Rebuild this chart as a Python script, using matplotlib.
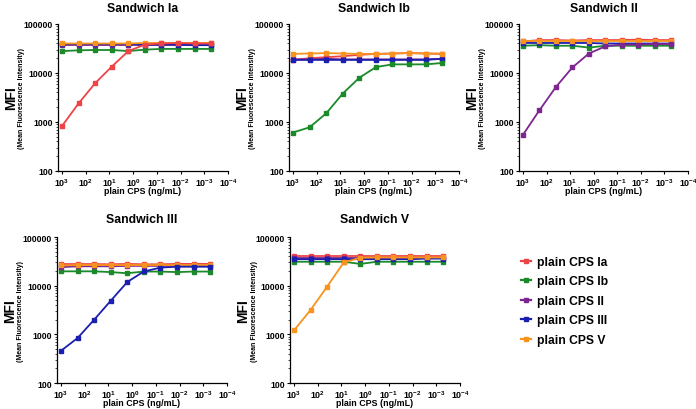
import numpy as np
import matplotlib
matplotlib.use("Agg")
import matplotlib.pyplot as plt
from matplotlib.lines import Line2D
from matplotlib.ticker import FixedLocator, NullLocator, LogLocator, NullFormatter

plt.rcParams['font.family'] = ['Liberation Sans', 'DejaVu Sans']
plt.rcParams['font.weight'] = 'bold'
plt.rcParams['mathtext.fontset'] = 'custom'
plt.rcParams['mathtext.rm'] = 'Liberation Sans:bold'
plt.rcParams['mathtext.default'] = 'rm'

# concentration (ng/mL), 5-fold dilutions from 1000
conc = [1000, 200, 40, 8, 1.6, 0.32, 0.064, 0.0128, 0.00256, 0.000512]

series_names = ["plain CPS Ia", "plain CPS Ib", "plain CPS II", "plain CPS III", "plain CPS V"]
colors = ["#EE4447", "#1B8A2A", "#7D2590", "#1B1FAF", "#F7931E"]

titles = ["Sandwich Ia", "Sandwich Ib", "Sandwich II", "Sandwich III", "Sandwich V"]

# Sandwich Ia
ia_Ia  = [830, 2400, 6200, 13500, 28000, 38000, 40000, 41000, 40000, 40000]
ia_Ib  = [28000, 29000, 29500, 29500, 28000, 30000, 31000, 31000, 31000, 31000]
ia_II  = [38000, 38000, 38000, 38000, 38000, 38000, 38000, 38000, 38000, 38000]
ia_III = [39000, 39000, 39000, 39000, 39000, 38000, 38000, 38000, 37000, 37000]
ia_V   = [40000, 40000, 40000, 40000, 40000, 41000, 41000, 41000, 41000, 41000]

# Sandwich Ib
ib_Ia  = [18600, 20000, 21000, 22000, 23500, 24500, 25000, 25500, 25000, 24500]
ib_Ib  = [610, 780, 1500, 3800, 8000, 13200, 15000, 15000, 15000, 16000]
ib_II  = [19000, 19000, 19500, 19000, 19000, 19000, 19000, 19000, 19000, 19500]
ib_III = [18500, 18500, 18500, 18500, 18500, 18500, 18500, 18500, 18500, 19500]
ib_V   = [24500, 25000, 25500, 25000, 24500, 24500, 25000, 25500, 25000, 25000]

# Sandwich II
ii_Ia  = [44000, 47000, 47000, 46000, 47000, 47000, 47000, 48000, 47000, 47000]
ii_Ib  = [36000, 37000, 36000, 36000, 33000, 36000, 36000, 36000, 36000, 36000]
ii_II  = [550, 1740, 5200, 13000, 25000, 35000, 38000, 38000, 39000, 39000]
ii_III = [41000, 41000, 41000, 41000, 41000, 40000, 40000, 40000, 40000, 40000]
ii_V   = [46000, 46000, 46000, 46000, 46000, 46000, 46000, 46000, 46000, 46000]

# Sandwich III
iii_Ia  = [27800, 27800, 27800, 27500, 28000, 27500, 27500, 28000, 28000, 28000]
iii_Ib  = [19700, 19700, 19700, 19000, 18000, 19500, 19500, 19000, 19500, 19500]
iii_II  = [24000, 25000, 25000, 25000, 25500, 25500, 25500, 25500, 25500, 25500]
iii_III = [460, 840, 2000, 4900, 11900, 19600, 23500, 24500, 24500, 24500]
iii_V   = [26000, 26500, 26500, 26500, 26500, 26500, 26500, 26500, 26500, 26500]

# Sandwich V
v_Ia  = [40000, 40000, 40000, 40000, 40000, 40000, 40000, 40000, 40000, 40000]
v_Ib  = [31000, 31000, 31000, 31000, 28000, 31000, 31000, 31000, 31000, 31000]
v_II  = [37000, 37000, 37000, 37000, 37000, 37000, 37000, 37000, 37000, 37000]
v_III = [35000, 35000, 35000, 35000, 35000, 35000, 35000, 35000, 36000, 36000]
v_V   = [1210, 3170, 9600, 30000, 37500, 38000, 38000, 38000, 38000, 38000]

panels = [
    [ia_Ia, ia_Ib, ia_II, ia_III, ia_V],
    [ib_Ia, ib_Ib, ib_II, ib_III, ib_V],
    [ii_Ia, ii_Ib, ii_II, ii_III, ii_V],
    [iii_Ia, iii_Ib, iii_II, iii_III, iii_V],
    [v_Ia, v_Ib, v_II, v_III, v_V],
]

xticks = [1e3, 1e2, 1e1, 1e0, 1e-1, 1e-2, 1e-3, 1e-4]
xticklabels = ["10$^{3}$", "10$^{2}$", "10$^{1}$", "10$^{0}$", "10$^{-1}$", "10$^{-2}$", "10$^{-3}$", "10$^{-4}$"]
yticks = [100, 1000, 10000, 100000]
yticklabels = ["100", "1000", "10000", "100000"]

fig = plt.figure(figsize=(6.96, 4.10), dpi=100)
W, H = 696, 410
boxes = [
    (58, 25, 228, 172),
    (289, 25, 459, 172),
    (519, 25, 688, 172),
    (57, 238, 227, 384),
    (290, 238, 460, 384),
]

for i, (box, data) in enumerate(zip(boxes, panels)):
    l, t, r, b = box
    w, h = r - l, b - t
    ax = fig.add_axes([l / W, 1 - b / H, w / W, h / H])
    order = [j for j in range(5) if j != i] + [i]
    for j in order:
        ax.plot(conc, data[j], color=colors[j], lw=1.3, marker='s', ms=2.6,
                mec=colors[j], mfc=colors[j], zorder=3 if j == i else 2, clip_on=False)
    ax.set_xscale('log')
    ax.set_yscale('log')
    ax.set_xlim(10**3.17, 1e-4)
    ax.set_ylim(100, 100000)
    ax.xaxis.set_major_locator(FixedLocator(xticks))
    ax.xaxis.set_minor_locator(NullLocator())
    ax.set_xticks(xticks)
    ax.set_xticklabels(xticklabels, fontsize=6.4, fontweight='bold')
    ax.set_yticks(yticks)
    ax.set_yticklabels(yticklabels, fontsize=6.3, fontweight='bold')
    ax.yaxis.set_minor_locator(LogLocator(base=10, subs=np.arange(2, 10)))
    ax.yaxis.set_minor_formatter(NullFormatter())
    ax.tick_params(axis='both', which='major', length=2.5, width=0.8, pad=1.0, direction='out')
    ax.tick_params(axis='y', which='minor', length=1.3, width=0.5)
    for s in ['top', 'right']:
        ax.spines[s].set_visible(False)
    for s in ['left', 'bottom']:
        ax.spines[s].set_linewidth(0.9)
    ax.set_title(titles[i], fontsize=8.8, fontweight='bold', pad=9 if i < 3 else 11)
    ax.set_xlabel("plain CPS (ng/mL)", fontsize=6.4, fontweight='bold')
    ax.xaxis.set_label_coords(0.5, -20 / h)
    ax.xaxis.label.set_va('center')
    ax.set_ylabel("MFI", fontsize=10, fontweight='bold')
    ax.yaxis.set_label_coords(-47 / w, 0.5)
    ax.yaxis.label.set_va('center')
    ax.text(-36 / w, 0.5, "(Mean Fluorescence Intensity)", transform=ax.transAxes,
            rotation=90, ha='center', va='center', fontsize=5.0, fontweight='bold')

handles = [Line2D([0], [0], color=c, lw=1.6, marker='s', ms=2.6) for c in colors]
fig.legend(handles, series_names, loc='upper left', bbox_to_anchor=(521 / W, 1 - 257 / H),
           frameon=False, handlelength=0.8, handletextpad=0.55, borderpad=0, borderaxespad=0,
           labelspacing=0.62, prop={'weight': 'bold', 'size': 8.7})

fig.savefig("out.png", dpi=100)
